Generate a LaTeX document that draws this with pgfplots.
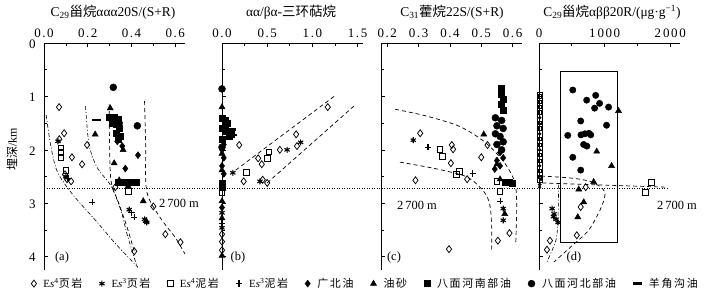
\documentclass[border=0pt]{standalone}
\usepackage{pgfplots}
\pgfplotsset{compat=1.18}
\usepackage{fontspec}
\setmainfont{Liberation Serif}
\newfontfamily\cjk{Noto Sans CJK SC}
\newfontfamily\cjkl[LetterSpace=15]{Noto Sans CJK SC}
\newfontfamily\tickfont[LetterSpace=12]{Liberation Serif}
\pgfplotsset{
  panel/.style={scale only axis, width=141bp, height=227bp,
    y dir=reverse, ymin=0, ymax=4.25,
    axis x line*=top, axis y line*=left,
    ytick={0,1,2,3,4}, minor ytick={0.5,1.5,2.5,3.5},
    tick align=inside, major tick length=4bp, minor tick length=2.5bp,
    every tick/.style={black, line width=0.6bp},
    axis line style={line width=0.7bp},
    ticklabel style={font=\fontsize{13}{14}\tickfont},
    yticklabel style={xshift=-5bp, yshift=-1bp},
    xticklabel style={yshift=2bp},
    /pgf/number format/assume math mode=true,
    clip=false},
  sh4/.style={only marks, mark=diamond, mark size=3.5bp, black, mark options={line width=0.75bp}},
  sh3/.style={only marks, mark=asterisk, mark size=3bp, black, mark options={line width=1.1bp}},
  md4/.style={only marks, mark=square, mark size=2.8bp, black, mark options={line width=0.75bp}},
  md3/.style={only marks, mark=+, mark size=3.2bp, black, mark options={line width=1.1bp}},
  gb/.style={only marks, mark=diamond*, mark size=3.5bp, black},
  ys/.style={only marks, mark=triangle*, mark size=3.5bp, black},
  bmn/.style={only marks, mark=square*, mark size=3bp, black},
  bmb/.style={only marks, mark=*, mark size=3.5bp, black},
  yjg/.style={only marks, mark=-, mark size=4.5bp, black, mark options={line width=2.4bp}},
  dl/.style={black, line width=0.7bp, dash pattern=on 4bp off 3bp, smooth},
  ddl/.style={black, line width=0.6bp, dash pattern=on 4bp off 2bp on 1bp off 2bp, smooth},
  legmark/.style={legend image code/.code={\draw[mark repeat=2,mark phase=2,##1] plot coordinates {(0bp,0bp)(4bp,0bp)(8bp,0bp)};}},
}
\begin{document}
\begin{tikzpicture}
\path[use as bounding box] (0,0) rectangle (708bp,299bp);
% ---------------- panel (a)
\begin{axis}[panel, at={(44bp,29bp)}, anchor=south west,
  xmin=0, xmax=0.645, xtick={0,0.2,0.4,0.6}, xticklabels={0.0,0.2,0.4,0.6},
  minor xtick={0.1,0.3,0.5},
  legend columns=9,
  legend style={at={(-0.113,-0.06)}, anchor=west, draw=none, fill=none,
    font=\fontsize{11}{12}\selectfont,
    /tikz/every odd column/.append style={column sep=5bp},
    /tikz/every even column/.append style={column sep=15bp}}]
\addplot[black, line width=1.3bp, dash pattern=on 1.2bp off 1.3bp, forget plot] coordinates {(0,2.72) (2.85,2.72)};
\addplot[ddl, forget plot] coordinates {(0.01,1.35)(0.03,1.9)(0.06,2.4)(0.13,2.83)(0.24,3.34)(0.33,3.77)(0.43,4.2)};
\addplot[ddl, forget plot] coordinates {(0.19,1.18)(0.206,1.9)(0.243,2.33)(0.307,2.68)(0.353,3.15)(0.38,3.58)(0.427,4.2)};
\addplot[dl, forget plot] coordinates {(0.298,1.14)(0.30,1.9)(0.307,2.59)(0.344,3.02)(0.38,3.45)(0.413,3.9)};
\addplot[dl, forget plot] coordinates {(0.46,1.09)(0.465,1.9)(0.47,2.78)(0.53,3.26)(0.6,3.64)(0.645,3.95)};
\addplot[sh4, forget plot] coordinates {(0.069,1.2)(0.092,1.69)(0.07,1.8)(0.197,1.91)(0.128,2.14)(0.174,2.27)(0.096,2.46)(0.105,2.55)(0.124,2.59)(0.326,2.7)(0.5,3.06)(0.555,3.58)(0.624,3.73)(0.413,3.9)};
\addplot[sh3, forget plot] coordinates {(0.064,1.84)(0.1,2.5)(0.39,3.12)(0.46,3.3)(0.47,3.36)};
\addplot[md4, forget plot] coordinates {(0.078,1.96)(0.078,2.05)(0.078,2.14)(0.1,2.38)(0.385,2.78)};
\addplot[md3, forget plot] coordinates {(0.22,2.98)(0.413,3.26)(0.11,2.53)(0.4,3.18)};
\addplot[gb, forget plot] coordinates {(0.335,1.84)(0.358,1.93)(0.43,2.1)(0.372,2.35)};
\addplot[ys, forget plot] coordinates {(0.303,1.22)(0.234,1.71)(0.362,2.0)(0.321,2.25)(0.344,2.57)(0.385,2.68)(0.454,2.96)(0.467,3.33)};
\addplot[bmn, forget plot] coordinates {(0.3,1.38)(0.32,1.38)(0.34,1.42)(0.31,1.5)(0.33,1.52)(0.345,1.6)(0.33,1.68)(0.35,1.75)(0.34,1.8)(0.34,2.6)(0.36,2.6)(0.38,2.6)(0.4,2.6)(0.42,2.6)};
\addplot[bmb, forget plot] coordinates {(0.317,0.83)(0.427,1.55)(0.344,1.5)};
\addplot[yjg, forget plot] coordinates {(0.238,1.44)(0.36,2.58)};
\addlegendimage{sh4, legmark}\addlegendentry{E\textit{s}\textsuperscript{4}{\cjkl 页岩}}
\addlegendimage{sh3, legmark}\addlegendentry{E\textit{s}\textsuperscript{3}{\cjkl 页岩}}
\addlegendimage{md4, legmark}\addlegendentry{E\textit{s}\textsuperscript{4}{\cjkl 泥岩}}
\addlegendimage{md3, legmark}\addlegendentry{E\textit{s}\textsuperscript{3}{\cjkl 泥岩}}
\addlegendimage{gb, legmark}\addlegendentry{{\cjkl 广北油}}
\addlegendimage{ys, legmark}\addlegendentry{{\cjkl 油砂}}
\addlegendimage{bmn, legmark}\addlegendentry{{\cjkl 八面河南部油}}
\addlegendimage{bmb, legmark}\addlegendentry{{\cjkl 八面河北部油}}
\addlegendimage{yjg, legmark}\addlegendentry{{\cjkl 羊角沟油}}
\end{axis}
% ---------------- panel (b)
\begin{axis}[panel, at={(222bp,29bp)}, anchor=south west,
  xmin=0, xmax=1.56, xtick={0,0.5,1,1.5}, xticklabels={0.0,0.5,1.0,1.5},
  minor xtick={0.25,0.75,1.25}, yticklabels={}]
\addplot[dl] coordinates {(1.24,1.0)(0.12,2.42)};
\addplot[dl] coordinates {(1.46,1.18)(0.5,2.62)};
\addplot[sh4] coordinates {(1.17,1.2)(0.82,1.71)(0.83,1.93)(0.19,1.91)(0.64,2.0)(0.4,2.16)(0.44,2.27)(0.24,2.59)(0.45,2.56)(0.5,2.62)(0.0,3.58)(0.0,3.72)(0.0,3.88)};
\addplot[sh3] coordinates {(0.87,1.86)(0.72,2.0)(0.12,2.43)(0.42,2.59)(0.0,3.18)(0.0,3.46)};
\addplot[md4] coordinates {(0.52,2.04)(0.5,2.16)(0.27,2.42)(0.0,2.8)};
\addplot[md3] coordinates {(0.0,3.38)};
\addplot[gb] coordinates {(0.02,1.9)(0.0,2.0)(0.02,2.15)(0.0,2.3)(0.02,2.45)(0.0,3.08)};
\addplot[ys] coordinates {(0.0,1.2)(0.0,2.07)(0.0,2.38)(0.0,2.96)(0.0,3.28)(0.0,3.98)};
\addplot[bmn] coordinates {(0.0,1.4)(0.03,1.45)(0.06,1.5)(0.03,1.55)(0.0,1.6)(0.05,1.65)(0.1,1.7)(0.08,1.75)(0.0,1.8)(0.0,2.62)(0.0,2.7)};
\addplot[bmb] coordinates {(0.0,0.86)(0.0,1.95)};
\addplot[yjg] coordinates {(0.12,1.72)(0.1,1.62)};
\end{axis}
% ---------------- panel (c)
\begin{axis}[panel, at={(381bp,29bp)}, anchor=south west,
  xmin=0.18, xmax=0.63, xtick={0.2,0.3,0.4,0.5,0.6}, xticklabels={0.2,0.3,0.4,0.5,0.6},
  yticklabels={}]
\addplot[dl] coordinates {(0.225,1.24)(0.327,1.37)(0.43,1.56)(0.508,1.84)(0.57,2.21)(0.606,2.59)(0.613,3.02)(0.61,3.77)};
\addplot[dl] coordinates {(0.24,2.23)(0.36,2.36)(0.455,2.51)(0.508,2.78)(0.527,3.02)(0.533,3.4)(0.533,3.9)};
\addplot[sh4] coordinates {(0.305,1.69)(0.406,1.91)(0.41,1.99)(0.403,2.25)(0.5,2.14)(0.52,1.91)(0.455,2.55)(0.29,2.57)(0.59,3.56)(0.553,3.7)(0.397,3.86)};
\addplot[sh3] coordinates {(0.283,1.82)(0.57,3.1)(0.57,3.32)};
\addplot[md3] coordinates {(0.33,1.95)(0.473,2.44)(0.56,2.96)};
\addplot[md4] coordinates {(0.368,1.99)(0.375,2.12)(0.43,2.4)(0.42,2.46)(0.55,2.59)(0.56,2.78)};
\addplot[bmn] coordinates {(0.565,0.85)(0.565,0.95)(0.57,1.05)(0.565,1.15)(0.57,1.25)(0.575,2.6)(0.59,2.6)(0.6,2.62)};
\addplot[bmb] coordinates {(0.545,1.4)(0.565,1.45)(0.55,1.55)(0.57,1.6)(0.545,1.7)(0.56,1.75)(0.57,1.85)(0.55,1.9)(0.565,2.0)};
\addplot[gb] coordinates {(0.56,2.05)(0.57,2.15)(0.55,2.2)(0.543,2.36)(0.56,2.3)};
\addplot[ys] coordinates {(0.508,1.71)(0.55,2.27)(0.56,2.55)(0.575,3.2)};
\end{axis}
% ---------------- panel (d)
\begin{axis}[panel, at={(539bp,29bp)}, anchor=south west,
  xmin=0, xmax=2150, xtick={0,1000,2000}, xticklabels={0,1\,000,2\,000},
  minor xtick={500,1500}, yticklabels={}]
\addplot[black, line width=0.6bp] coordinates {(330,0.53)(1200,0.53)(1200,3.73)(330,3.73)(330,0.53)};
\addplot[black, line width=0.5bp] coordinates {(-30,0.92)(50,0.92)(50,2.6)(-30,2.6)(-30,0.92)};
\addplot[dl] coordinates {(30,2.49)(500,2.53)(800,2.6)(1000,2.78)(955,3.06)(760,3.5)(500,3.8)(227,4.1)};
\addplot[dl] coordinates {(50,2.62)(1950,2.7)};
\addplot[ddl] coordinates {(300,2.65)(290,3.25)(260,3.68)(120,4.1)};
\addplot[bmb, mark size=3.2bp] coordinates {(515,0.88)(864,0.98)(727,1.07)(924,1.13)(848,1.22)(1061,1.2)(636,1.46)(1030,1.54)(439,1.73)(640,1.72)(700,1.7)(760,1.69)(790,1.72)(680,1.9)(730,1.93)(515,2.14)(636,2.38)};
\addplot[ys] coordinates {(1212,1.27)(880,2.03)(1106,2.3)(833,2.6)(606,2.74)(682,2.98)(591,3.26)};
\addplot[sh4] coordinates {(712,2.7)(636,3.07)(576,3.6)(167,3.7)(121,3.87)};
\addplot[md4] coordinates {(1712,2.61)(1620,2.8)};
\addplot[sh3] coordinates {(200,3.1)(230,3.2)(260,3.3)(290,3.36)(220,3.25)};
\addplot[md4, mark size=1.6bp] coordinates {(10,1.0)(10,1.1)(10,1.2)(10,1.3)(10,1.5)(10,1.6)(10,1.8)(10,1.9)(10,2.1)(10,2.2)(10,2.4)(10,2.5)};
\addplot[bmb, mark size=1.6bp] coordinates {(10,1.4)(10,1.7)(10,2.0)(10,2.3)(10,2.65)};
\addplot[gb, mark size=1.8bp] coordinates {(10,2.7)(30,2.55)};
\end{axis}
% ---------------- texts
\node[font=\fontsize{13.5}{15}\selectfont] at (113bp,287bp) {C\textsubscript{29}{\cjk 甾烷}ααα20S/(S+R)};
\node[font=\fontsize{13.5}{15}\selectfont] at (291bp,287bp) {αα/βα-{\cjk 三环萜烷}};
\node[font=\fontsize{13.5}{15}\selectfont] at (452bp,287bp) {C\textsubscript{31}{\cjk 藿烷}22S/(S+R)};
\node[font=\fontsize{13.5}{15}\selectfont] at (612bp,287bp) {C\textsubscript{29}{\cjk 甾烷}αββ20R/(μg·g\textsuperscript{−1})};
\node[rotate=90, font=\fontsize{12}{14}\selectfont] at (12bp,150bp) {{\cjk 埋深}/km};
\node[font=\fontsize{12.5}{14}\selectfont] at (179bp,96bp) {2\,700 m};
\node[font=\fontsize{12.5}{14}\selectfont] at (417bp,94bp) {2\,700 m};
\node[font=\fontsize{12.5}{14}\selectfont] at (677bp,94bp) {2\,700 m};
\node[font=\fontsize{12.5}{14}\selectfont] at (62bp,41bp) {(a)};
\node[font=\fontsize{12.5}{14}\selectfont] at (238bp,41bp) {(b)};
\node[font=\fontsize{12.5}{14}\selectfont] at (394bp,41bp) {(c)};
\node[font=\fontsize{12.5}{14}\selectfont] at (574bp,41bp) {(d)};
\end{tikzpicture}
\end{document}
